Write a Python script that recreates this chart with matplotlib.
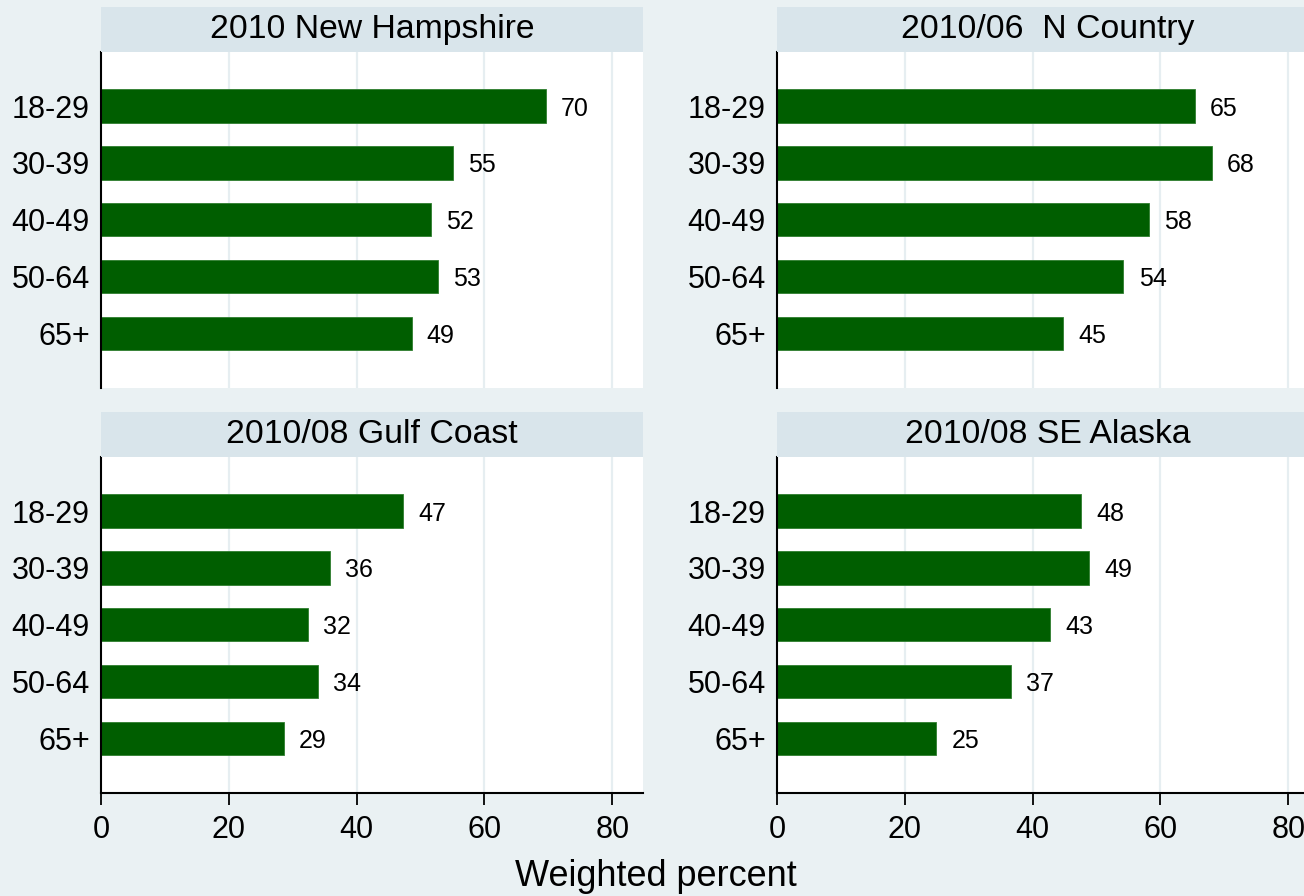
import matplotlib
matplotlib.use("Agg")
import matplotlib.pyplot as plt

plt.rcParams['font.family'] = ['Liberation Sans', 'DejaVu Sans']

age_groups = ["18-29", "30-39", "40-49", "50-64", "65+"]
panel_titles = ["2010 New Hampshire", "2010/06  N Country",
                "2010/08 Gulf Coast", "2010/08 SE Alaska"]
new_hampshire = [69.6, 55.1, 51.6, 52.7, 48.6]
n_country = [65.4, 68.0, 58.2, 54.2, 44.7]
gulf_coast = [47.2, 35.8, 32.4, 33.9, 28.6]
se_alaska = [47.6, 48.9, 42.7, 36.6, 24.9]
x_ticks = [0, 20, 40, 60, 80]
x_label = "Weighted percent"

series = [new_hampshire, n_country, gulf_coast, se_alaska]

BG = '#EAF1F3'
STRIP = '#D9E5EB'
GRID = '#E6EEF1'
BAR = '#005E00'

W, H = 1304, 896
fig = plt.figure(figsize=(W / 100, H / 100), dpi=100, facecolor=BG)

def fx(px):
    return px / W

def fy(py):
    return 1 - py / H

ax_w = 542
lefts = [101, 777, 101, 777]
tops = [52, 52, 457, 457]
ax_h = 336
strip_h = 45

for i in range(4):
    l, t = lefts[i], tops[i]
    ax = fig.add_axes([fx(l), fy(t + ax_h), ax_w / W, ax_h / H])
    ax.set_facecolor('white')
    ypos = list(range(len(age_groups)))
    bars = ax.barh(ypos, series[i], height=0.59, color=BAR,
                   edgecolor='#2e7d2e', linewidth=0.6, zorder=3)
    labels = ax.bar_label(bars, fmt='%.0f', padding=11, fontsize=18, color='black')
    for lab in labels:
        lab.set_verticalalignment('center_baseline')
    ax.set_xlim(0, ax_w / 6.39)
    ax.set_ylim(4.96, -0.95)
    ax.set_yticks(ypos)
    ax.set_yticklabels(age_groups)
    ax.tick_params(axis='y', length=0, pad=8, labelsize=22)
    for gx in x_ticks[1:]:
        ax.axvline(gx, color=GRID, linewidth=1.6, zorder=1)
    ax.set_xticks(x_ticks)
    for s in ['top', 'right']:
        ax.spines[s].set_visible(False)
    ax.spines['left'].set_linewidth(1.5)
    ax.spines['left'].set_zorder(4)
    if i < 2:
        ax.spines['bottom'].set_visible(False)
        ax.tick_params(axis='x', length=0, labelbottom=False)
    else:
        ax.spines['bottom'].set_linewidth(1.5)
        ax.tick_params(axis='x', length=8.5, width=1.3, pad=7, labelsize=22)
    # strip
    sax = fig.add_axes([fx(l), fy(t), ax_w / W, strip_h / H])
    sax.set_facecolor(STRIP)
    sax.set_xticks([])
    sax.set_yticks([])
    for s in sax.spines.values():
        s.set_visible(False)
    sax.text(0.5, 0.5, panel_titles[i], ha='center', va='center',
             fontsize=24.3, transform=sax.transAxes)

fig.text(fx(656), fy(876), x_label, ha='center', va='center', fontsize=26)

fig.savefig('out.png', dpi=100, facecolor=BG)
